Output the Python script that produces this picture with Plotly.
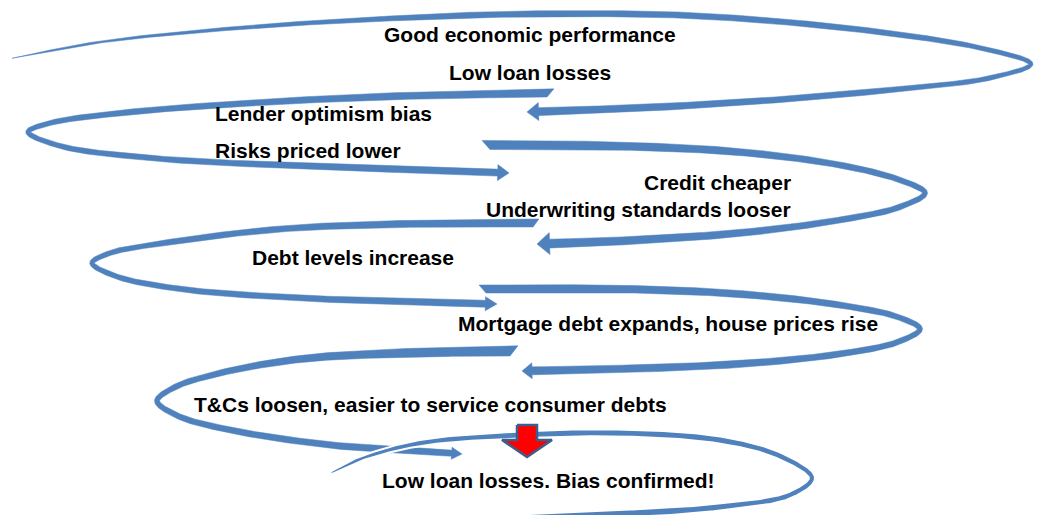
import numpy as np
import plotly.graph_objects as go

W, H = 1038, 515
BLUE = "#4F81BD"

# ---- spiral loops: centerline points (picture pixels) and ribbon widths ----
loop1_x = [12, 100, 250, 400, 520, 700, 880, 990, 1031, 990, 880, 760, 640, 527]
loop1_y = [58, 42, 27, 18, 14, 16, 32, 50, 64, 78, 91, 101, 108, 112]
loop1_w = [0.5, 2, 3.5, 5, 6, 6, 5.5, 4.5, 4, 4.5, 5.5, 6, 7, 8]

loop2_x = [547, 400, 250, 120, 50, 28, 60, 150, 300, 420, 509]
loop2_y = [93, 96, 103, 113, 123, 132, 146, 158, 166, 170, 173]
loop2_w = [8, 7, 6, 5.5, 5, 4.5, 5, 5.5, 6, 6.5, 7]

loop3_x = [490, 620, 740, 840, 900, 925, 900, 840, 740, 620, 537]
loop3_y = [145, 146, 152, 165, 180, 193, 207, 220, 233, 241, 244]
loop3_w = [9, 8, 7, 6, 5.5, 5, 5.5, 6, 7, 8, 9]

loop4_x = [533, 400, 280, 170, 110, 92, 115, 180, 300, 420, 497]
loop4_y = [223, 224, 229, 242, 253, 263, 276, 289, 298, 302, 304]
loop4_w = [8, 7, 6, 5.5, 5, 4.5, 5, 5.5, 6, 6.5, 7]

loop5_x = [486, 620, 740, 840, 898, 920, 898, 840, 740, 620, 522]
loop5_y = [289, 289, 294, 305, 317, 329, 342, 354, 364, 369, 371]
loop5_w = [8, 7.5, 7, 6, 5.5, 5, 5.5, 6, 7, 7.5, 8]

loop6_x = [510, 400, 300, 220, 175, 157, 178, 230, 330, 420, 462]
loop6_y = [351, 353, 359, 373, 387, 401, 416, 430, 445, 451, 454]
loop6_w = [10, 8.5, 7, 6, 5.5, 5, 5.5, 6, 6.5, 6.5, 6]

loop7_x = [331, 360, 420, 520, 620, 720, 780, 812, 790, 720, 620, 530]
loop7_y = [473, 459, 443, 435, 433, 440, 456, 478, 495, 507, 514, 518]
loop7_w = [0.8, 2.5, 4, 5, 5, 5, 4.5, 4, 4.5, 5, 6, 6]

# arrowhead (length, half-width) for each loop; loop7 has none
heads = [(11, 9), (10, 8), (11, 11), (11, 7), (10, 8), (10, 6), None]
# slanted start cut length (px) for each loop
start_slant = [0, 7, 8, 6, 7, 8, 0]

loops = [
    (loop1_x, loop1_y, loop1_w),
    (loop2_x, loop2_y, loop2_w),
    (loop3_x, loop3_y, loop3_w),
    (loop4_x, loop4_y, loop4_w),
    (loop5_x, loop5_y, loop5_w),
    (loop6_x, loop6_y, loop6_w),
    (loop7_x, loop7_y, loop7_w),
]

# ---- labels ----
labels = [
    "Good economic performance",
    "Low loan losses",
    "Lender optimism bias",
    "Risks priced lower",
    "Credit cheaper",
    "Underwriting standards looser",
    "Debt levels increase",
    "Mortgage debt expands, house prices rise",
    "T&Cs loosen, easier to service consumer debts",
    "Low loan losses. Bias confirmed!",
]
label_x = [530, 530, 213, 213, 793, 793, 250, 456, 192, 380]
label_y = [34, 72, 113, 150, 182, 209, 257, 323, 404, 480]
label_anchor = ["center", "center", "left", "left", "right", "right",
                "left", "left", "left", "left"]

# red "confirmation" arrow: centre x, top y, shaft w, shaft len, head w, head len
red_arrow = dict(cx=527, top=425, sw=20, sl=15, hw=50, hl=17)


def catmull_rom(xs, ys, ws, n=40, alpha=0.5):
    P = np.column_stack([xs, ys]).astype(float)
    Wd = np.asarray(ws, float)
    ext = np.vstack([2 * P[0] - P[1], P, 2 * P[-1] - P[-2]])
    out, wout = [], []
    for i in range(len(P) - 1):
        p0, p1, p2, p3 = ext[i], ext[i + 1], ext[i + 2], ext[i + 3]
        t0 = 0.0
        t1 = t0 + max(np.linalg.norm(p1 - p0), 1e-6) ** alpha
        t2 = t1 + max(np.linalg.norm(p2 - p1), 1e-6) ** alpha
        t3 = t2 + max(np.linalg.norm(p3 - p2), 1e-6) ** alpha
        t = np.linspace(t1, t2, n, endpoint=(i == len(P) - 2))[:, None]
        A1 = (t1 - t) / (t1 - t0) * p0 + (t - t0) / (t1 - t0) * p1
        A2 = (t2 - t) / (t2 - t1) * p1 + (t - t1) / (t2 - t1) * p2
        A3 = (t3 - t) / (t3 - t2) * p2 + (t - t2) / (t3 - t2) * p3
        B1 = (t2 - t) / (t2 - t0) * A1 + (t - t0) / (t2 - t0) * A2
        B2 = (t3 - t) / (t3 - t1) * A2 + (t - t1) / (t3 - t1) * A3
        C = (t2 - t) / (t2 - t1) * B1 + (t - t1) / (t2 - t1) * B2
        out.append(C)
        f = ((t - t1) / (t2 - t1)).ravel()
        wout.append(Wd[i] * (1 - f) + Wd[i + 1] * f)
    return np.vstack(out), np.concatenate(wout)


def ribbon(xs, ys, ws, head, slant):
    C, w = catmull_rom(xs, ys, ws)
    d = np.diff(C, axis=0)
    seg = np.hypot(d[:, 0], d[:, 1])
    s = np.concatenate([[0], np.cumsum(seg)])
    tip = C[-1]
    if head is not None:
        hl, hw = head
        keep = s <= s[-1] - hl
        C, w = C[keep], w[keep]
    tang = np.gradient(C, axis=0)
    tang /= np.hypot(tang[:, 0], tang[:, 1])[:, None]
    nrm = np.column_stack([-tang[:, 1], tang[:, 0]])
    left = C + nrm * (w[:, None] / 2)
    right = C - nrm * (w[:, None] / 2)
    if slant:
        ext = lambda p: (p - tang[0] * slant)[None, :]
        if left[0, 1] < right[0, 1]:
            left = np.vstack([ext(left[0]), left])
        else:
            right = np.vstack([ext(right[0]), right])
    if head is not None:
        base = C[-1]
        nb = nrm[-1]
        poly = np.vstack([left, base + nb * hw, tip, base - nb * hw, right[::-1], left[:1]])
    else:
        poly = np.vstack([left, right[::-1], left[:1]])
    return poly


fig = go.Figure()
for k, ((xs, ys, ws), head, sl) in enumerate(zip(loops, heads, start_slant)):
    last = k == len(loops) - 1
    if last:
        ws = [v + 2 for v in ws]
    poly = ribbon(xs, ys, ws, head, sl)
    fig.add_trace(go.Scatter(
        x=poly[:, 0], y=poly[:, 1], mode="lines", fill="toself",
        fillcolor=BLUE,
        line=dict(color="white" if last else BLUE, width=2 if last else 0.5),
        hoverinfo="skip", showlegend=False))

ra = red_arrow
rx = [ra["cx"] - ra["sw"] / 2, ra["cx"] + ra["sw"] / 2, ra["cx"] + ra["sw"] / 2,
      ra["cx"] + ra["hw"] / 2, ra["cx"], ra["cx"] - ra["hw"] / 2,
      ra["cx"] - ra["sw"] / 2, ra["cx"] - ra["sw"] / 2]
ry = [ra["top"], ra["top"], ra["top"] + ra["sl"], ra["top"] + ra["sl"],
      ra["top"] + ra["sl"] + ra["hl"], ra["top"] + ra["sl"],
      ra["top"] + ra["sl"], ra["top"]]
fig.add_trace(go.Scatter(
    x=rx, y=ry, mode="lines", fill="toself", fillcolor="#FF0000",
    line=dict(color="#3B5E8C", width=2.5), hoverinfo="skip", showlegend=False))

for txt, x, y, anc in zip(labels, label_x, label_y, label_anchor):
    fig.add_annotation(
        x=x, y=y, text="<b>" + txt.replace("&", "&amp;") + "</b>", showarrow=False,
        xanchor=anc, yanchor="middle",
        font=dict(family="Arial, 'Liberation Sans', sans-serif", size=21, color="black"))

fig.update_layout(
    width=W, height=H, margin=dict(l=0, r=0, t=0, b=0),
    paper_bgcolor="white", plot_bgcolor="white",
    xaxis=dict(range=[0, W], visible=False, fixedrange=True),
    yaxis=dict(range=[H, 0], visible=False, fixedrange=True),
)
fig.write_html("out.html", config={"displayModeBar": False},
               post_script="document.body.style.margin='0';document.body.style.overflow='hidden';")
